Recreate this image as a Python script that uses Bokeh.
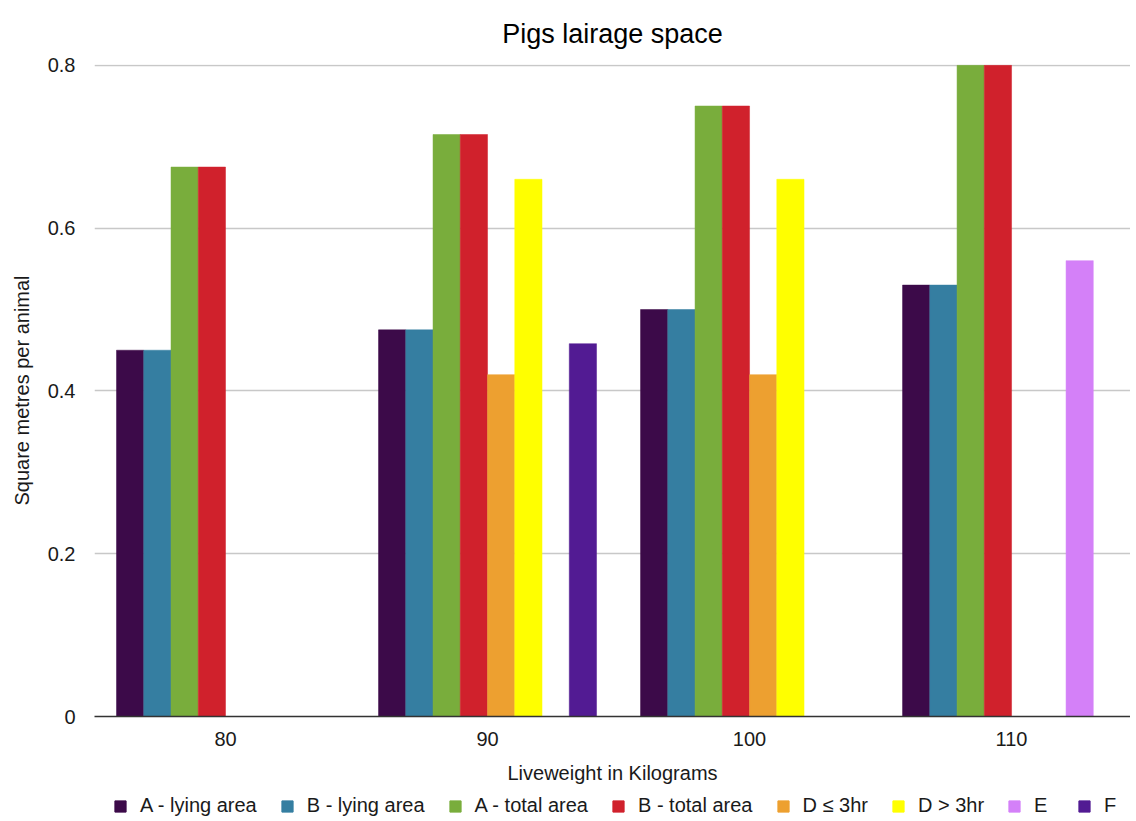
from bokeh.plotting import figure
from bokeh.layouts import column
from bokeh.models import ColumnDataSource, Range1d, FixedTicker, Legend, LegendItem
from bokeh.transform import dodge
from bokeh.embed import file_html
from bokeh.resources import INLINE

# ---- data ----
weights = [80, 90, 100, 110]
series_names = ["A - lying area", "B - lying area", "A - total area", "B - total area",
                "D ≤ 3hr", "D > 3hr", "E", "F"]
a_lying = [0.45, 0.475, 0.5, 0.53]
b_lying = [0.45, 0.475, 0.5, 0.53]
a_total = [0.675, 0.715, 0.75, 0.8]
b_total = [0.675, 0.715, 0.75, 0.8]
d_le_3hr = [None, 0.42, 0.42, None]
d_gt_3hr = [None, 0.66, 0.66, None]
e_vals = [None, None, None, 0.56]
f_vals = [None, 0.458, None, None]
series_values = [a_lying, b_lying, a_total, b_total, d_le_3hr, d_gt_3hr, e_vals, f_vals]
colors = ["#3c0a49", "#357ea1", "#79ad3c", "#d0212c", "#eda030", "#ffff00", "#d480f8", "#521b93"]
y_ticks = [0, 0.2, 0.4, 0.6, 0.8]
y_tick_labels = ["0", "0.2", "0.4", "0.6", "0.8"]

FONT = "Liberation Sans"
TXT = "#1a1a1a"
W = 1130

p = figure(width=W, height=788,
           x_range=Range1d(75, 114.54), y_range=Range1d(0, 0.801),
           output_backend="svg", toolbar_location=None,
           title="Pigs lairage space",
           min_border_left=94, min_border_right=0, min_border_top=64, min_border_bottom=72)

p.outline_line_color = None
p.background_fill_color = "white"
p.border_fill_color = "white"

p.title.align = "center"
p.title.text_font = FONT
p.title.text_font_size = "27px"
p.title.text_font_style = "normal"
p.title.text_color = "#000000"
p.title.standoff = 32

p.xgrid.visible = False
p.ygrid.grid_line_color = "#c8c8c8"
p.ygrid.grid_line_width = 1.4
p.ygrid.ticker = FixedTicker(ticks=y_ticks)

# y axis
yax = p.yaxis[0]
yax.ticker = FixedTicker(ticks=y_ticks)
yax.major_label_overrides = {t: l for t, l in zip(y_ticks, y_tick_labels)}
yax.axis_line_color = None
yax.major_tick_line_color = None
yax.minor_tick_line_color = None
yax.major_label_standoff = 13
yax.major_label_text_font = FONT
yax.major_label_text_font_size = "20px"
yax.major_label_text_color = TXT
yax.axis_label = "Square metres per animal"
yax.axis_label_text_font = FONT
yax.axis_label_text_font_size = "20px"
yax.axis_label_text_font_style = "normal"
yax.axis_label_text_color = TXT
yax.axis_label_standoff = 12

# x axis
xax = p.xaxis[0]
xax.ticker = FixedTicker(ticks=weights)
xax.axis_line_color = "#333333"
xax.axis_line_width = 1.6
xax.major_tick_line_color = None
xax.minor_tick_line_color = None
xax.major_label_standoff = 9
xax.major_label_text_font = FONT
xax.major_label_text_font_size = "20px"
xax.major_label_text_color = TXT
xax.axis_label = "Liveweight in Kilograms"
xax.axis_label_text_font = FONT
xax.axis_label_text_font_size = "20px"
xax.axis_label_text_font_style = "normal"
xax.axis_label_text_color = TXT
xax.axis_label_standoff = 13

bar_w = 1.04
n = len(series_names)
for i, (name, vals, col) in enumerate(zip(series_names, series_values, colors)):
    xs = [w for w, v in zip(weights, vals) if v is not None]
    tops = [v for v in vals if v is not None]
    src = ColumnDataSource(dict(x=xs, top=tops))
    off = (i - (n - 1) / 2) * bar_w
    p.vbar(x=dodge("x", off), top="top", bottom=0, width=bar_w, source=src,
           fill_color=col, line_color=col, line_width=0.5)

# ---- legend strip below the chart ----
lg = figure(width=W, height=29, x_range=Range1d(0, 1), y_range=Range1d(0, 1),
            x_axis_type=None, y_axis_type=None,
            output_backend="svg", toolbar_location=None,
            min_border_left=94, min_border_right=0, min_border_top=0, min_border_bottom=0)
lg.outline_line_color = None
lg.grid.visible = False
items = []
for name, col in zip(series_names, colors):
    # placeholder renderer outside the visible range: only its legend swatch is seen
    r = lg.vbar(x=[5], top=[1], width=0.1, fill_color=col, line_color=col)
    items.append(LegendItem(label=name, renderers=[r]))
legend = Legend(items=items, orientation="horizontal", location=(19, 0),
                glyph_width=14, glyph_height=14, label_standoff=13, spacing=23,
                padding=0, margin=0, border_line_color=None,
                background_fill_alpha=0,
                label_text_font=FONT, label_text_font_size="20px",
                label_text_color=TXT)
lg.add_layout(legend, "center")

page = column(p, lg, spacing=0)
open("out.html", "w").write(file_html(page, INLINE))
